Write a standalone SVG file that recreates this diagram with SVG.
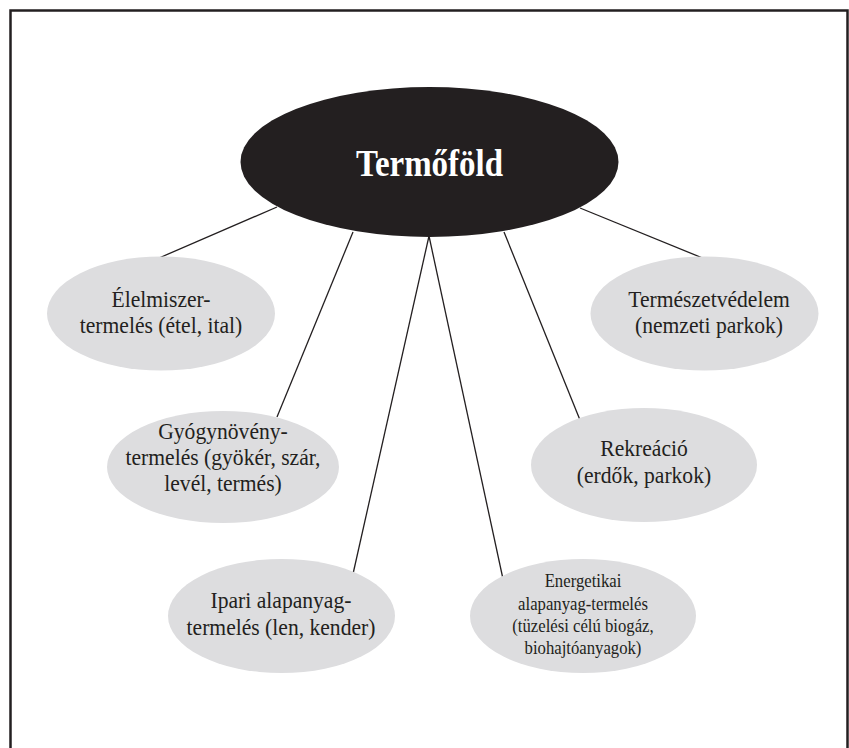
<svg xmlns="http://www.w3.org/2000/svg" width="849" height="748" viewBox="0 0 849 748">
<style>
  .frame { fill: none; stroke: #231f20; stroke-width: 2.5; }
  .conn { stroke: #231f20; stroke-width: 1.3; fill: none; }
  .leaf { fill: #dddddf; }
  .root { fill: #231f20; }
  .t { font-family: "Liberation Serif", "Times New Roman", serif; font-size: 24px; fill: #231f20; text-anchor: middle; }
  .ts { font-family: "Liberation Serif", "Times New Roman", serif; font-size: 19px; fill: #231f20; text-anchor: middle; }
  .tr { font-family: "Liberation Serif", "Times New Roman", serif; font-size: 37px; font-weight: bold; fill: #ffffff; text-anchor: middle; }
</style>
<rect x="0" y="0" width="849" height="748" fill="#ffffff"/>
<rect class="frame" x="10.5" y="10.5" width="837" height="760"/>
<g id="connectors">
  <line class="conn" x1="277" y1="207" x2="159" y2="258"/>
  <line class="conn" x1="580" y1="208" x2="705" y2="259"/>
  <line class="conn" x1="353" y1="232" x2="277" y2="417"/>
  <line class="conn" x1="429" y1="236" x2="353" y2="574"/>
  <line class="conn" x1="429" y1="236" x2="503" y2="579"/>
  <line class="conn" x1="504" y1="232" x2="580" y2="420"/>
</g>
<g id="termofold">
  <ellipse class="root" cx="429.5" cy="162" rx="189" ry="75"/>
  <text class="tr" x="429.5" y="175.5" textLength="147" lengthAdjust="spacingAndGlyphs">Termőföld</text>
</g>
<g id="elelmiszer">
  <ellipse class="leaf" cx="161" cy="313.5" rx="114" ry="57"/>
  <g transform="translate(161,0) scale(0.9,1)">
    <text class="t" x="0" y="307">Élelmiszer-</text>
    <text class="t" x="0" y="333">termelés (étel, ital)</text>
  </g>
</g>
<g id="termeszetvedelem">
  <ellipse class="leaf" cx="704.5" cy="313.5" rx="114" ry="57"/>
  <g transform="translate(709,0) scale(0.9,1)">
    <text class="t" x="0" y="307">Természetvédelem</text>
    <text class="t" x="0" y="333">(nemzeti parkok)</text>
  </g>
</g>
<g id="gyogynoveny">
  <ellipse class="leaf" cx="223" cy="467" rx="116" ry="56"/>
  <g transform="translate(223,0) scale(0.9,1)">
    <text class="t" x="0" y="439">Gyógynövény-</text>
    <text class="t" x="0" y="465">termelés (gyökér, szár,</text>
    <text class="t" x="0" y="491">levél, termés)</text>
  </g>
</g>
<g id="rekreacio">
  <ellipse class="leaf" cx="644" cy="465" rx="113" ry="57"/>
  <g transform="translate(644,0) scale(0.9,1)">
    <text class="t" x="0" y="456">Rekreáció</text>
    <text class="t" x="0" y="483">(erdők, parkok)</text>
  </g>
</g>
<g id="ipari">
  <ellipse class="leaf" cx="281.5" cy="616" rx="113.5" ry="57"/>
  <g transform="translate(281,0) scale(0.9,1)">
    <text class="t" x="0" y="608">Ipari alapanyag-</text>
    <text class="t" x="0" y="635">termelés (len, kender)</text>
  </g>
</g>
<g id="energetikai">
  <ellipse class="leaf" cx="583" cy="616" rx="113" ry="57"/>
  <g transform="translate(583,0) scale(0.88,1)">
    <text class="ts" x="0" y="587">Energetikai</text>
    <text class="ts" x="0" y="610">alapanyag-termelés</text>
    <text class="ts" x="0" y="632">(tüzelési célú biogáz,</text>
    <text class="ts" x="0" y="654">biohajtóanyagok)</text>
  </g>
</g>
</svg>
